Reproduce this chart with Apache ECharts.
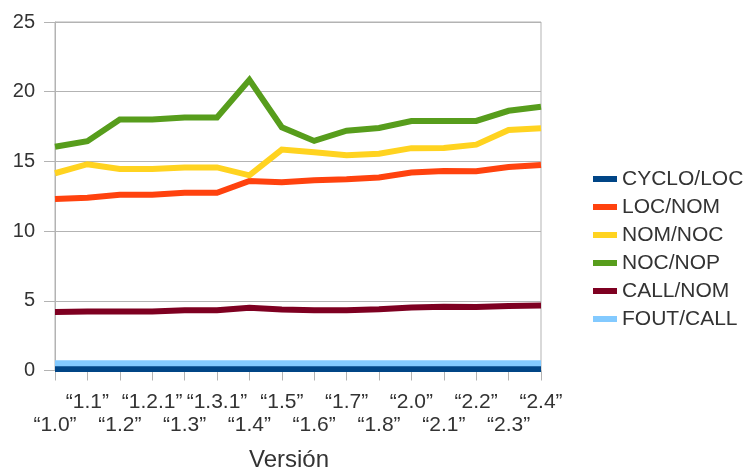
<!DOCTYPE html>
<html>
<head>
<meta charset="utf-8">
<script src="https://cdn.jsdelivr.net/npm/echarts@6/dist/echarts.min.js"></script>
<style>
  html, body { margin: 0; padding: 0; background: #ffffff; }
  #chart { width: 744px; height: 472px; }
</style>
</head>
<body>
<div id="chart"></div>
<script>
// Release versions along the x axis
const versions = ['1.0', '1.1', '1.2', '1.2.1', '1.3', '1.3.1', '1.4', '1.5', '1.6', '1.7', '1.8', '2.0', '2.1', '2.2', '2.3', '2.4'];

// Metric ratios per version
const cycloLoc = [0.1, 0.1, 0.1, 0.1, 0.1, 0.1, 0.1, 0.1, 0.1, 0.1, 0.1, 0.1, 0.1, 0.1, 0.1, 0.1];
const locNom   = [12.3, 12.4, 12.6, 12.6, 12.75, 12.75, 13.6, 13.5, 13.65, 13.72, 13.85, 14.2, 14.32, 14.3, 14.6, 14.75];
const nomNoc   = [14.15, 14.8, 14.45, 14.45, 14.57, 14.57, 14.0, 15.85, 15.65, 15.45, 15.55, 15.95, 15.97, 16.2, 17.25, 17.38];
const nocNop   = [16.05, 16.45, 18.0, 18.0, 18.15, 18.15, 20.85, 17.45, 16.47, 17.2, 17.4, 17.9, 17.9, 17.9, 18.63, 18.92];
const callNom  = [4.2, 4.23, 4.23, 4.23, 4.32, 4.32, 4.5, 4.38, 4.33, 4.32, 4.39, 4.52, 4.57, 4.55, 4.63, 4.66];
const foutCall = [0.52, 0.52, 0.52, 0.52, 0.52, 0.52, 0.52, 0.52, 0.52, 0.52, 0.52, 0.52, 0.52, 0.52, 0.52, 0.52];

const yTicks = { min: 0, max: 25, interval: 5 };

const seriesDefs = [
  { name: 'CYCLO/LOC', data: cycloLoc, color: '#004586' },
  { name: 'LOC/NOM',   data: locNom,   color: '#ff420e' },
  { name: 'NOM/NOC',   data: nomNoc,   color: '#ffd320' },
  { name: 'NOC/NOP',   data: nocNop,   color: '#579d1c' },
  { name: 'CALL/NOM',  data: callNom,  color: '#7e0021' },
  { name: 'FOUT/CALL', data: foutCall, color: '#83caff' }
];

const textColor = '#333333';
const lineGray = '#b3b3b3';
const fontFamily = '"Liberation Sans", Arial, sans-serif';

const chart = echarts.init(document.getElementById('chart'), null, { renderer: 'canvas' });

chart.setOption({
  animation: false,
  backgroundColor: '#ffffff',
  textStyle: { fontFamily: fontFamily, color: textColor },
  grid: {
    left: 55, right: 203, top: 22, bottom: 101.5,
    containLabel: false,
    outerBoundsMode: 'none',
    show: true, borderColor: lineGray, borderWidth: 1, backgroundColor: 'transparent'
  },
  legend: {
    orient: 'vertical',
    left: 588, top: 163.5,
    itemWidth: 24, itemHeight: 6, itemGap: 7,
    icon: 'rect',
    textStyle: { fontSize: 21, lineHeight: 21, color: textColor, fontFamily: fontFamily },
    data: seriesDefs.map(s => s.name)
  },
  xAxis: {
    type: 'category',
    data: versions,
    boundaryGap: false,
    name: 'Versión',
    nameLocation: 'middle',
    nameGap: 78,
    nameTextStyle: { fontSize: 24, color: textColor, fontFamily: fontFamily, padding: [0, 18, 0, 0] },
    axisLine: { lineStyle: { color: lineGray, width: 1 } },
    axisTick: { show: true, length: 10, alignWithLabel: true, lineStyle: { color: lineGray } },
    axisLabel: {
      interval: 0,
      margin: 20,
      fontSize: 21,
      lineHeight: 23,
      color: textColor,
      verticalAlign: 'top',
      formatter: function (value, index) {
        const label = '\u201C' + value + '\u201D';
        return index % 2 === 0 ? '\n' + label : label;
      }
    },
    splitLine: { show: false }
  },
  yAxis: {
    type: 'value',
    min: yTicks.min, max: yTicks.max, interval: yTicks.interval,
    axisLine: { show: true, lineStyle: { color: lineGray, width: 1 } },
    axisTick: { show: true, length: 11, lineStyle: { color: lineGray } },
    axisLabel: { margin: 20, fontSize: 20, color: textColor },
    splitLine: { show: true, lineStyle: { color: lineGray, width: 1 } }
  },
  series: seriesDefs.map(s => ({
    name: s.name,
    type: 'line',
    data: s.data,
    symbol: 'none',
    color: s.color,
    lineStyle: { color: s.color, width: 6, join: 'miter' },
    itemStyle: { color: s.color }
  }))
});
</script>
</body>
</html>
